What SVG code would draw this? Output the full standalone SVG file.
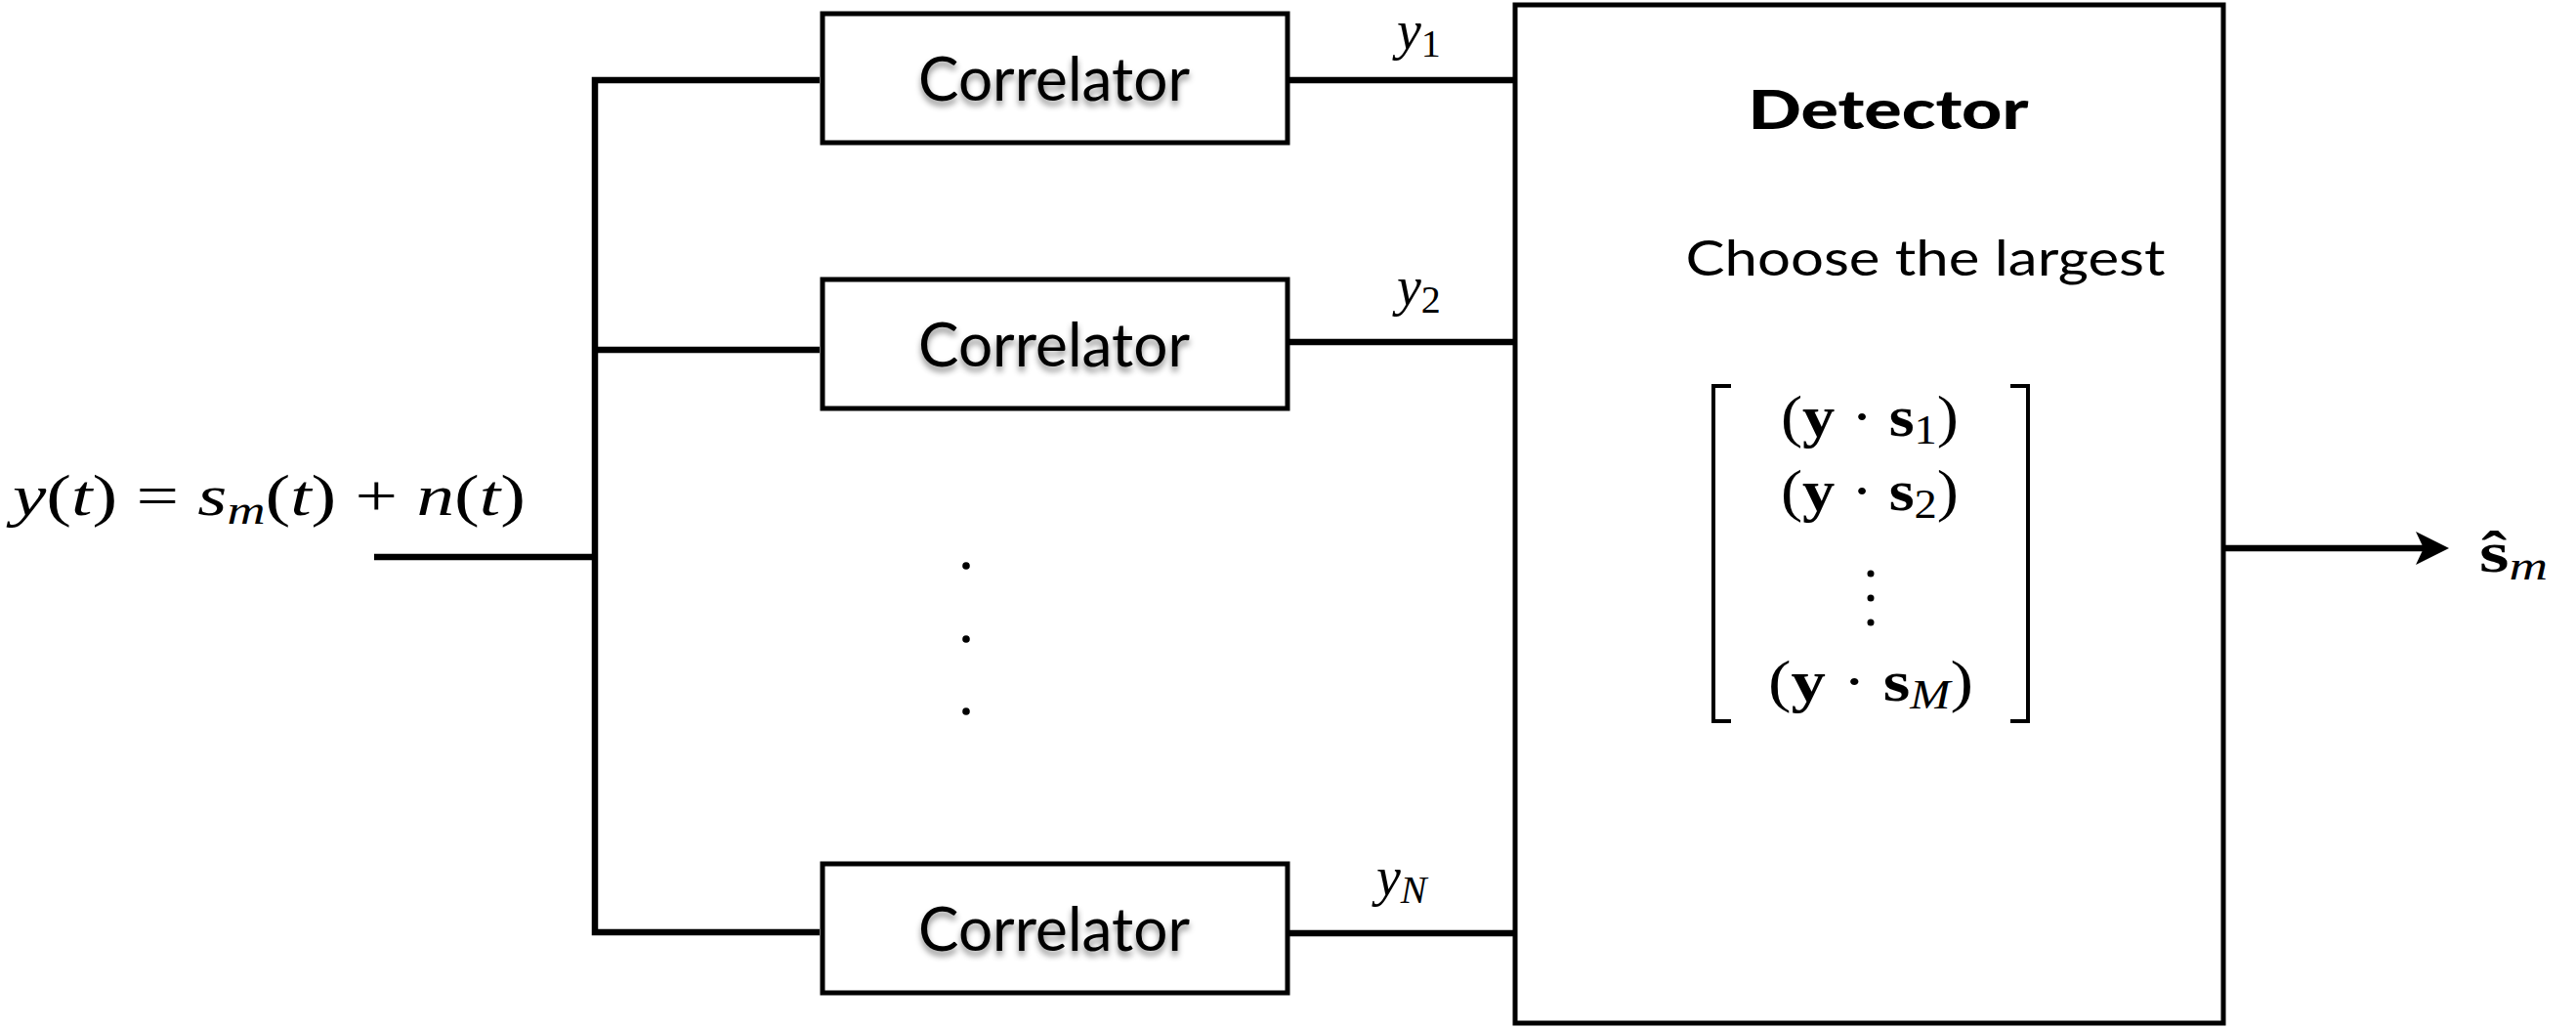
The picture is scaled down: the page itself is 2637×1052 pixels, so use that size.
<svg xmlns="http://www.w3.org/2000/svg" width="2637" height="1052" viewBox="0 0 2637 1052">
  <style>
    .box { fill: #fff; stroke: #000; stroke-width: 5; }
    .wire { fill: none; stroke: #000; stroke-width: 6.5; }
    .label { font-family: Lato, "Open Sans", sans-serif; fill: #000; }
    .corr { font-size: 62px; filter: url(#textShadow); }
    .math { font-family: "Liberation Serif", "DejaVu Serif", serif; fill: #000; font-size: 60px; }
    .sig { font-size: 56px; }
    .it { font-style: italic; }
    .bf { font-weight: bold; }
    .bracket { fill: none; stroke: #000; stroke-width: 4; }
  </style>
  <defs>
    <filter id="textShadow" x="-10%" y="-30%" width="120%" height="180%">
      <feDropShadow dx="0" dy="5" stdDeviation="3" flood-color="#000" flood-opacity="0.45"/>
    </filter>
    <marker id="arrowHead" markerUnits="userSpaceOnUse" markerWidth="36" markerHeight="36" refX="8" refY="17" orient="auto">
      <path d="M0,0 L34,17 L0,34 L8,17 z" fill="#000"/>
    </marker>
  </defs>

  <rect width="2637" height="1052" fill="#fff"/>

  <!-- connectors -->
  <g id="connectors">
    <path class="wire" d="M383,570 H609"/>
    <path class="wire" d="M839,82 H609 V954 H839"/>
    <path class="wire" d="M609,358 H839"/>
    <path class="wire" d="M1318,82 H1551"/>
    <path class="wire" d="M1318,350 H1551"/>
    <path class="wire" d="M1318,955 H1551"/>
    <path class="wire" d="M2276,561 H2481" marker-end="url(#arrowHead)"/>
  </g>

  <!-- input signal -->
  <g id="input-label">
    <text class="math" x="13" y="527" textLength="525" lengthAdjust="spacingAndGlyphs"><tspan class="it">y</tspan>(<tspan class="it">t</tspan>) = <tspan class="it">s</tspan><tspan class="it" font-size="42" dy="9">m</tspan><tspan dy="-9">(</tspan><tspan class="it">t</tspan>) + <tspan class="it">n</tspan>(<tspan class="it">t</tspan>)</text>
  </g>

  <!-- correlator bank -->
  <g id="correlator-1">
    <rect class="box" x="842" y="14" width="476" height="132"/>
    <text class="label corr" x="1079" y="103" text-anchor="middle" textLength="278" lengthAdjust="spacingAndGlyphs">Correlator</text>
  </g>
  <g id="correlator-2">
    <rect class="box" x="842" y="286" width="476" height="132"/>
    <text class="label corr" x="1079" y="375" text-anchor="middle" textLength="278" lengthAdjust="spacingAndGlyphs">Correlator</text>
  </g>
  <g id="correlator-n">
    <rect class="box" x="842" y="884" width="476" height="132"/>
    <text class="label corr" x="1079" y="973" text-anchor="middle" textLength="278" lengthAdjust="spacingAndGlyphs">Correlator</text>
  </g>

  <!-- ellipsis between branches -->
  <g id="branch-ellipsis" fill="#000">
    <circle cx="989" cy="579" r="3.8"/>
    <circle cx="989" cy="654" r="3.8"/>
    <circle cx="989" cy="728" r="3.8"/>
  </g>

  <!-- branch outputs -->
  <g id="output-labels">
    <text class="math sig" x="1430" y="50"><tspan class="it">y</tspan><tspan font-size="40" dy="8">1</tspan></text>
    <text class="math sig" x="1430" y="312"><tspan class="it">y</tspan><tspan font-size="40" dy="8">2</tspan></text>
    <text class="math sig" x="1409" y="916"><tspan class="it">y</tspan><tspan class="it" font-size="40" dy="8">N</tspan></text>
  </g>

  <!-- detector -->
  <g id="detector">
    <rect class="box" x="1551" y="5" width="725" height="1042"/>
    <text class="label" x="1933" y="132" text-anchor="middle" font-size="56" font-weight="900" textLength="287" lengthAdjust="spacingAndGlyphs">Detector</text>
    <text class="label" x="1971" y="282" text-anchor="middle" font-size="51" textLength="491" lengthAdjust="spacingAndGlyphs">Choose the largest</text>
    <path class="bracket" d="M1772,395 H1754 V738 H1772"/>
    <path class="bracket" d="M2058,395 H2076 V738 H2058"/>
    <text class="math" x="1914" y="446" text-anchor="middle" textLength="182" lengthAdjust="spacingAndGlyphs">(<tspan class="bf">y</tspan> · <tspan class="bf">s</tspan><tspan font-size="42" dy="8">1</tspan><tspan dy="-8">)</tspan></text>
    <text class="math" x="1914" y="522" text-anchor="middle" textLength="182" lengthAdjust="spacingAndGlyphs">(<tspan class="bf">y</tspan> · <tspan class="bf">s</tspan><tspan font-size="42" dy="8">2</tspan><tspan dy="-8">)</tspan></text>
    <circle cx="1915" cy="587" r="3.5"/>
    <circle cx="1915" cy="612" r="3.5"/>
    <circle cx="1915" cy="637" r="3.5"/>
    <text class="math" x="1915" y="717" text-anchor="middle" textLength="210" lengthAdjust="spacingAndGlyphs">(<tspan class="bf">y</tspan> · <tspan class="bf">s</tspan><tspan class="it" font-size="42" dy="8">M</tspan><tspan dy="-8">)</tspan></text>
  </g>

  <!-- decision output -->
  <g id="output-estimate">
    <text class="math" x="2538" y="585" textLength="70" lengthAdjust="spacingAndGlyphs"><tspan class="bf">ŝ</tspan><tspan class="it" font-size="42" dy="8">m</tspan></text>
  </g>
</svg>
